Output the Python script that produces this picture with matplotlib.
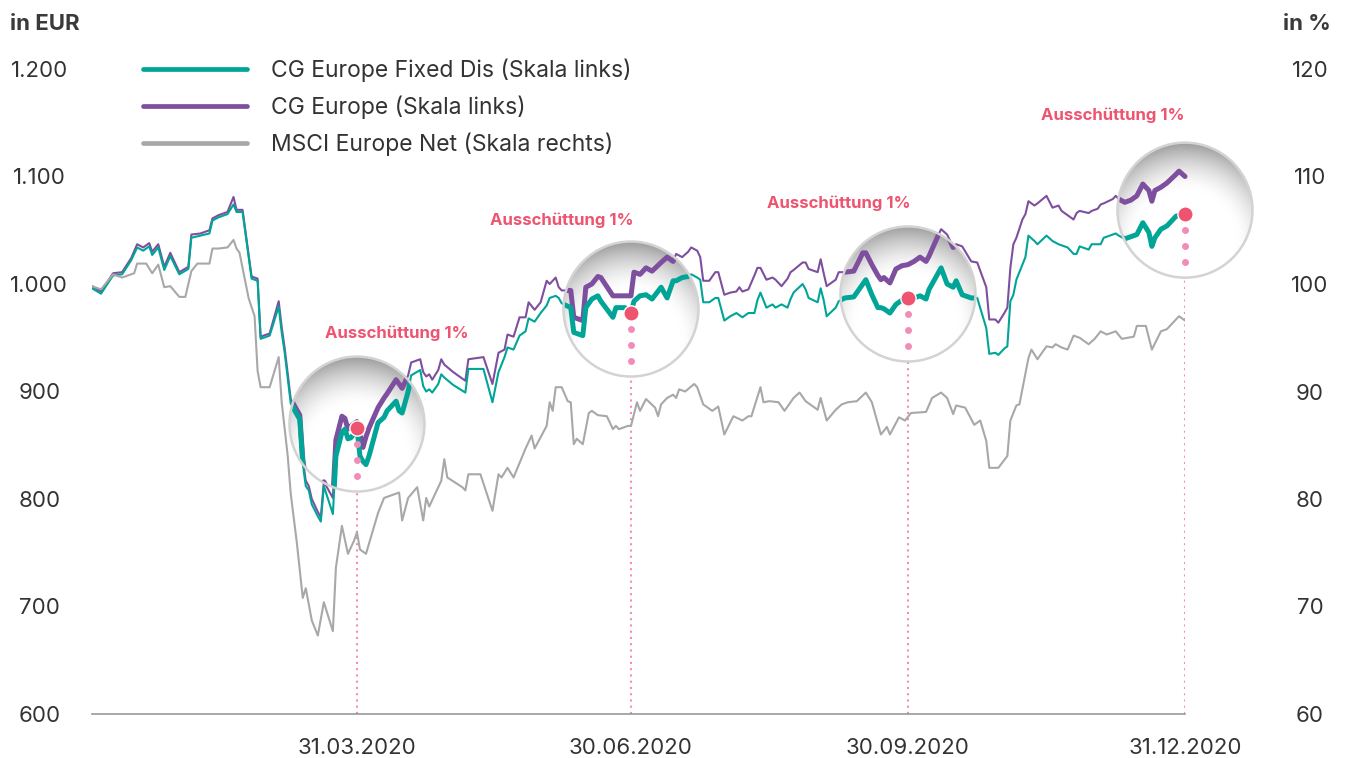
import numpy as np
import pandas as pd
import matplotlib
matplotlib.use("Agg")
import matplotlib.pyplot as plt
import matplotlib.dates as mdates
import matplotlib.transforms as mtransforms
from matplotlib.patches import Circle
from matplotlib.lines import Line2D
from matplotlib.ticker import FuncFormatter

plt.rcParams['font.family'] = ['Inter', 'DejaVu Sans']

# --- data (days counted from 01.01.2020) ---
fund_days = [2, 5, 9, 12, 15, 17, 19, 21, 22, 24, 26, 28, 31, 34, 35, 38, 41, 42, 44, 47,
             49, 50, 52, 55, 57, 58, 61, 64, 65, 66, 68, 71, 72, 73, 74, 75, 77, 78, 79, 82,
             83, 85, 86, 87, 88, 89, 90, 91, 92, 93, 94, 97, 99, 100, 103, 104, 105, 107, 108, 111,
             112, 113, 114, 115, 117, 118, 119, 122, 126, 127, 132, 135, 137, 139, 140, 142, 144, 146, 147, 149,
             151, 153, 154, 156, 157, 158, 161, 162, 165, 166, 168, 170, 171, 175, 176, 179, 181, 182, 184, 186,
             188, 191, 193, 195, 196, 198, 200, 201, 203, 204, 205, 207, 209, 210, 212, 214, 216, 217, 218, 220,
             222, 223, 224, 226, 228, 229, 231, 233, 234, 235, 238, 239, 240, 243, 244, 245, 246, 249, 250, 252,
             255, 258, 259, 261, 263, 264, 265, 267, 269, 271, 273, 275, 277, 279, 280, 283, 284, 286, 288, 289,
             291, 294, 296, 299, 300, 302, 303, 305, 306, 307, 308, 309, 311, 312, 313, 315, 316, 319, 321, 323,
             324, 326, 328, 329, 330, 333, 334, 336, 337, 338, 341, 342, 343, 345, 347, 349, 351, 353, 354, 355,
             357, 359, 362, 363, 365]

cg_europe = [998, 993, 1010, 1011, 1024, 1037, 1034, 1038, 1030, 1037, 1016, 1029, 1011, 1016, 1046, 1047, 1050, 1061, 1064, 1067,
             1081, 1069, 1069, 1007, 1005, 951, 954, 984, 960, 940, 893, 878, 837, 817, 812, 800, 788, 783, 816, 801,
             855, 877, 875, 865, 868, 870, 872, 860, 848, 858, 866, 885, 894, 898, 911, 907, 903, 915, 927, 930,
             918, 914, 916, 911, 920, 930, 925, 918, 910, 930, 932, 907, 936, 939, 953, 951, 969, 969, 983, 976,
             983, 1003, 1000, 1006, 997, 994, 994, 969, 966, 997, 1000, 1007, 1006, 989, 989, 989, 989, 1011, 1009, 1015,
             1012, 1020, 1025, 1021, 1028, 1025, 1030, 1034, 1031, 1025, 1003, 1003, 1011, 1011, 990, 992, 993, 997, 993, 995,
             1008, 1015, 1015, 1004, 1006, 1004, 998, 1005, 1011, 1013, 1020, 1020, 1014, 1011, 1023, 1010, 998, 1004, 1011, 1011,
             1012, 1029, 1029, 1018, 1008, 1004, 1006, 1001, 1014, 1017, 1018, 1021, 1025, 1021, 1026, 1045, 1051, 1046, 1034, 1037,
             1035, 1021, 1020, 997, 967, 967, 964, 973, 978, 1015, 1037, 1043, 1060, 1065, 1077, 1073, 1075, 1082, 1071, 1073,
             1068, 1064, 1060, 1066, 1068, 1066, 1068, 1070, 1074, 1075, 1079, 1082, 1079, 1076, 1078, 1082, 1093, 1087, 1077, 1087,
             1090, 1094, 1102, 1105, 1100]

fixed_dis = [996, 991, 1008, 1009, 1022, 1034, 1031, 1035, 1027, 1034, 1013, 1026, 1009, 1014, 1043, 1045, 1047, 1059, 1062, 1065,
             1074, 1067, 1067, 1005, 1003, 949, 952, 979, 955, 936, 889, 874, 833, 812, 808, 795, 784, 779, 812, 786,
             840, 862, 865, 856, 857, 861, 866, 840, 835, 832, 840, 871, 876, 882, 891, 882, 880, 900, 915, 920,
             905, 900, 902, 899, 907, 916, 913, 906, 899, 921, 921, 890, 918, 932, 941, 939, 952, 956, 968, 965,
             973, 980, 987, 989, 987, 982, 978, 955, 952, 978, 986, 989, 984, 969, 978, 978, 973, 984, 989, 990,
             986, 997, 987, 1003, 1003, 1006, 1007, 1009, 1006, 1004, 983, 983, 987, 987, 966, 970, 973, 971, 969, 973,
             973, 985, 992, 978, 981, 978, 981, 978, 986, 992, 1000, 995, 987, 983, 996, 985, 970, 978, 984, 987,
             988, 1000, 1004, 990, 978, 978, 977, 973, 981, 985, 987, 987, 989, 986, 995, 1010, 1015, 1000, 997, 1003,
             990, 987, 987, 959, 935, 936, 934, 940, 942, 984, 990, 1004, 1018, 1025, 1045, 1040, 1037, 1045, 1040, 1037,
             1036, 1034, 1028, 1028, 1035, 1032, 1037, 1037, 1037, 1043, 1046, 1047, 1045, 1042, 1044, 1046, 1057, 1048, 1035, 1043,
             1051, 1054, 1063, 1064, 1065]

msci_days = [2, 5, 9, 12, 16, 17, 20, 22, 24, 26, 28, 31, 33, 35, 37, 41, 42, 44, 47, 49,
             50, 51, 54, 56, 57, 58, 61, 64, 65, 67, 68, 70, 72, 73, 75, 77, 79, 82, 83, 85,
             87, 89, 90, 91, 93, 97, 99, 104, 105, 107, 110, 112, 113, 114, 118, 119, 120, 125, 126, 127,
             131, 135, 137, 138, 140, 142, 146, 148, 149, 153, 154, 155, 156, 158, 160, 161, 162, 163, 165, 167,
             168, 170, 173, 175, 176, 177, 180, 181, 183, 184, 186, 189, 190, 191, 193, 195, 196, 197, 199, 202,
             203, 205, 208, 210, 212, 215, 218, 220, 221, 224, 225, 227, 230, 232, 235, 237, 239, 243, 244, 246,
             249, 251, 253, 256, 259, 261, 264, 266, 267, 270, 272, 274, 279, 281, 284, 286, 288, 289, 292, 295,
             297, 299, 300, 303, 306, 307, 309, 310, 313, 314, 316, 319, 321, 322, 324, 326, 328, 330, 333, 335,
             337, 339, 342, 344, 348, 349, 352, 354, 357, 359, 363, 365]

msci_net = [99.8, 99.5, 100.9, 100.6, 101.0, 101.9, 101.9, 101.0, 101.8, 99.7, 99.8, 98.8, 98.8, 101.2, 101.9, 101.9, 103.3, 103.3, 103.4, 104.1,
            103.3, 102.9, 98.7, 97.0, 91.9, 90.4, 90.4, 93.2, 89.0, 84.0, 80.5, 76.0, 70.8, 71.7, 68.7, 67.3, 70.4, 67.7, 73.6, 77.5,
            74.9, 76.1, 76.9, 75.3, 74.9, 78.7, 80.1, 80.6, 78.0, 80.1, 81.1, 78.0, 80.1, 79.3, 81.7, 83.7, 82.0, 81.1, 80.8, 82.3,
            82.3, 78.9, 82.3, 82.0, 82.9, 82.0, 84.7, 85.9, 84.7, 86.8, 89.0, 88.2, 90.4, 90.4, 89.1, 89.0, 85.1, 85.6, 85.1, 88.0,
            88.2, 87.8, 87.7, 86.5, 86.8, 86.5, 86.8, 86.8, 89.0, 88.2, 89.3, 88.5, 87.7, 88.8, 89.4, 89.7, 89.4, 90.2, 90.0, 90.7,
            90.4, 88.8, 88.2, 88.6, 86.0, 87.7, 87.3, 87.7, 87.7, 90.4, 89.0, 89.1, 89.0, 88.2, 89.4, 89.9, 89.1, 88.3, 89.4, 87.3,
            88.3, 88.8, 89.0, 89.1, 89.9, 89.0, 86.0, 86.7, 86.0, 87.6, 87.3, 88.0, 88.1, 89.4, 89.9, 89.4, 87.9, 88.7, 88.5, 86.9,
            87.3, 85.4, 82.9, 82.9, 84.0, 87.3, 88.7, 88.8, 93.1, 93.9, 93.0, 94.2, 94.1, 94.4, 94.1, 93.9, 95.2, 95.0, 94.4, 94.9,
            95.6, 95.3, 95.6, 94.9, 95.1, 96.1, 96.1, 93.9, 95.6, 95.8, 97.0, 96.6]

dist_days = [90, 181, 273, 365]
dist_text = "Ausschüttung 1%"
eur_ticks = [600, 700, 800, 900, 1000, 1100, 1200]
pct_ticks = [60, 70, 80, 90, 100, 110, 120]
date_ticks = ["2020-03-31", "2020-06-30", "2020-09-30", "2020-12-31"]
series_names = ["CG Europe Fixed Dis (Skala links)", "CG Europe (Skala links)",
                "MSCI Europe Net (Skala rechts)"]

# colours
TEAL = "#00a597"
PURPLE = "#7d4f9e"
GREY = "#a8a8ab"
RED = "#ee5470"
PINK = "#f28cb9"
TXT = "#333333"

base = pd.Timestamp("2020-01-01")
fund_dates = (base + pd.to_timedelta(fund_days, unit="D")).to_numpy()
msci_dates = (base + pd.to_timedelta(msci_days, unit="D")).to_numpy()
dist_dates = (base + pd.to_timedelta(dist_days, unit="D")).to_numpy()
dist_vals = [fixed_dis[fund_days.index(d)] for d in dist_days]

fig = plt.figure(figsize=(13.45, 7.58), dpi=100)
ax = fig.add_axes([92 / 1345, 44 / 758, 1093 / 1345, 645 / 758])

ax.plot(fund_dates, cg_europe, color=PURPLE, lw=1.5, zorder=2)
ax.plot(fund_dates, fixed_dis, color=TEAL, lw=1.5, zorder=2)

# glass shading for the magnifier circles
n = 300
yy, xx = np.mgrid[-1:1:n * 1j, -1:1:n * 1j]
dd = np.hypot(xx, yy + 0.45) / 1.45
shade = np.clip((dd - 0.52) / 0.48, 0, 1) ** 1.6 * 0.38
g = 1 - shade
glass = np.dstack([g, g, g, np.ones_like(g)])

R = 0.675  # inches
label_offsets = [(29, 68), (-50, 67), (-50, 68), (-52, 71)]

for i in range(len(dist_days)):
    xd = mdates.date2num(dist_dates[i])
    yv = dist_vals[i]
    trans = fig.dpi_scale_trans + mtransforms.ScaledTranslation(xd, yv, ax.transData)

    # dotted line down to the axis
    ax.plot([dist_dates[i], dist_dates[i]], [600, yv], color=PINK, lw=1.5,
            ls=(0, (1, 2)), zorder=2.5)

    clip = Circle((0, 0.04), R, transform=trans)
    im = ax.imshow(glass, extent=(-R, R, -R + 0.04, R + 0.04), origin="lower",
                   transform=trans, aspect="auto", interpolation="bilinear", zorder=3)
    im.set_clip_box(fig.bbox)
    im.set_clip_path(clip)

    l1, = ax.plot(fund_dates, cg_europe, color=PURPLE, lw=3.6, zorder=4,
                  solid_capstyle="round")
    l2, = ax.plot(fund_dates, fixed_dis, color=TEAL, lw=3.6, zorder=4,
                  solid_capstyle="round")
    for ln in (l1, l2):
        ln.set_clip_box(fig.bbox)
        ln.set_clip_path(clip)

    ax.add_patch(Circle((0, 0.04), R, transform=trans, facecolor="none",
                        edgecolor="#d3d3d3", lw=1.8, zorder=4.5, clip_on=False))

    for k in range(1, 4):
        ax.plot([0], [-0.16 * k], marker="o", ms=5, color=PINK, mec="none",
                transform=trans, zorder=5, clip_on=False)
    ax.plot([dist_dates[i]], [yv], marker="o", ms=11, color=RED, mec="white",
            mew=1.0, zorder=6, clip_on=False)

    ax.annotate(dist_text, (dist_dates[i], yv), xytext=label_offsets[i],
                textcoords="offset points", ha="center", va="center",
                color=RED, fontsize=12, fontweight="bold", zorder=7)

ax2 = ax.twinx()
ax2.plot(msci_dates, msci_net, color=GREY, lw=1.5)

ax.set_xlim(base + pd.Timedelta(days=2), base + pd.Timedelta(days=365))
ax.set_ylim(600, 1200)
ax2.set_ylim(60, 120)

ax.set_yticks(eur_ticks)
ax.yaxis.set_major_formatter(FuncFormatter(lambda v, p: f"{v:,.0f}".replace(",", ".")))
ax2.set_yticks(pct_ticks)
ax.set_xticks(pd.to_datetime(date_ticks))
ax.xaxis.set_major_formatter(mdates.DateFormatter("%d.%m.%Y"))

ax.tick_params(axis="y", length=0, pad=38, labelsize=16, labelcolor=TXT)
ax2.tick_params(axis="y", length=0, pad=90, labelsize=16, labelcolor=TXT)
ax.tick_params(axis="x", length=0, pad=17, labelsize=16, labelcolor=TXT)
plt.setp(ax.get_yticklabels(), ha="center")
plt.setp(ax2.get_yticklabels(), ha="center")

for s in ["top", "left", "right"]:
    ax.spines[s].set_visible(False)
for s in ax2.spines.values():
    s.set_visible(False)
ax.spines["bottom"].set_color("#9a9a9a")
ax.spines["bottom"].set_linewidth(1.2)

fig.text(10 / 1345, 1 - 24 / 758, "in EUR", ha="left", va="center",
         fontsize=16, fontweight="bold", color="#3a3a3a")
fig.text(1331 / 1345, 1 - 24 / 758, "in %", ha="right", va="center",
         fontsize=16, fontweight="bold", color="#3a3a3a")

handles = [Line2D([], [], color=TEAL, lw=3.4, solid_capstyle="round"),
           Line2D([], [], color=PURPLE, lw=3.4, solid_capstyle="round"),
           Line2D([], [], color=GREY, lw=3.4, solid_capstyle="round")]
leg = fig.legend(handles, series_names, loc="upper left",
                 bbox_to_anchor=(143 / 1345, 1 - 59 / 758), frameon=False,
                 fontsize=16.5, handlelength=4.55, handletextpad=1.05,
                 labelspacing=0.58, borderpad=0, borderaxespad=0)
for t in leg.get_texts():
    t.set_color(TXT)

fig.savefig("out.png", dpi=100)
